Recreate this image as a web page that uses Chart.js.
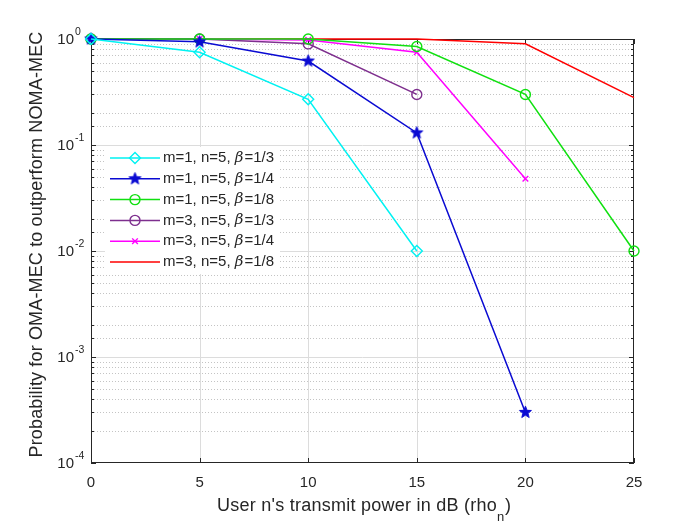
<!DOCTYPE html>
<html><head><meta charset="utf-8">
<script src="https://cdn.jsdelivr.net/npm/chart.js@4.4.0/dist/chart.umd.min.js"></script>
<style>html,body{margin:0;padding:0;background:#fff}</style>
</head><body>
<canvas id="c" width="700" height="525" style="width:700px;height:525px;display:block"></canvas>
<script>
// ---- data ----
const xValues = [0, 5, 10, 15, 20, 25];
const s_m1_b13 = [1.0, 0.75, 0.27, 0.01];
const s_m1_b14 = [1.0, 0.94, 0.62, 0.13, 0.0003];
const s_m1_b18 = [1.0, 1.0, 1.0, 0.85, 0.30, 0.01];
const s_m3_b13 = [1.0, 1.0, 0.90, 0.30];
const s_m3_b14 = [1.0, 1.0, 0.98, 0.75, 0.048];
const s_m3_b18 = [1.0, 1.0, 1.0, 1.0, 0.90, 0.28];
const legendPrefix = ['m=1, n=5, ', 'm=1, n=5, ', 'm=1, n=5, ', 'm=3, n=5, ', 'm=3, n=5, ', 'm=3, n=5, '];
const legendSuffix = ['=1/3', '=1/4', '=1/8', '=1/3', '=1/4', '=1/8'];
const xTickValues = [0, 5, 10, 15, 20, 25];
const yTickExponents = [0, -1, -2, -3, -4];
const xTitle = "User n's transmit power in dB (rho";
const xTitleSub = 'n';
const yTitle = 'Probability for OMA-MEC to outperform NOMA-MEC';

const FONT = '"Liberation Sans", Arial, Helvetica, sans-serif';
const AX = '#262626';

function starCanvas(color, r) {
  const s = Math.ceil(2 * r + 4);
  const cv = document.createElement('canvas');
  cv.width = s; cv.height = s;
  const c = cv.getContext('2d');
  const cx = s / 2, cy = s / 2, ri = r * 0.42;
  c.beginPath();
  for (let i = 0; i < 10; i++) {
    const rad = (i % 2 === 0) ? r : ri;
    const a = -Math.PI / 2 + i * Math.PI / 5;
    const px = cx + rad * Math.cos(a), py = cy + rad * Math.sin(a);
    i === 0 ? c.moveTo(px, py) : c.lineTo(px, py);
  }
  c.closePath();
  c.fillStyle = color; c.fill();
  c.strokeStyle = color; c.lineWidth = 1; c.stroke();
  return cv;
}

const colors = ['#00f2f2', '#0a0ad2', '#10e010', '#7e2f8e', '#ff00ff', '#ff0000'];
const styles = ['rectRot', starCanvas('#0a0ad2', 6.3), 'circle', 'circle', 'crossRot', false];
const radii = [5.5, 6.3, 5, 5, 4, 0];
const seriesList = [s_m1_b13, s_m1_b14, s_m1_b18, s_m3_b13, s_m3_b14, s_m3_b18];

const datasets = seriesList.map((s, i) => ({
  label: legendPrefix[i] + 'β' + legendSuffix[i],
  data: s.map((v, k) => ({x: xValues[k], y: v})),
  borderColor: colors[i],
  backgroundColor: 'rgba(0,0,0,0)',
  pointBorderColor: colors[i],
  pointBackgroundColor: 'rgba(0,0,0,0)',
  pointStyle: styles[i] || 'circle',
  pointRadius: radii[i],
  pointHoverRadius: radii[i],
  pointBorderWidth: 1.4,
  borderWidth: 1.5,
  tension: 0,
  clip: false
}));

function spaced(ctx, px) { if ('letterSpacing' in ctx) ctx.letterSpacing = px + 'px'; }

const matlab = {
  id: 'matlab',
  beforeDatasetsDraw(chart) {
    const {ctx, chartArea: a, scales: {x, y}} = chart;
    ctx.save();
    ctx.lineWidth = 1;
    y.ticks.forEach(t => {
      const v = t.value;
      const lg = Math.log10(v);
      const major = Math.abs(lg - Math.round(lg)) < 1e-9;
      const py = Math.round(y.getPixelForValue(v)) + 0.5;
      if (py <= a.top + 1 || py >= a.bottom - 1) return;
      ctx.beginPath();
      ctx.setLineDash(major ? [] : [1, 2]);
      ctx.strokeStyle = major ? '#dcdcdc' : '#c4c4c4';
      ctx.moveTo(a.left, py); ctx.lineTo(a.right, py); ctx.stroke();
    });
    ctx.setLineDash([]);
    xTickValues.forEach(v => {
      const px = Math.round(x.getPixelForValue(v)) + 0.5;
      if (px <= a.left + 1 || px >= a.right - 1) return;
      ctx.beginPath(); ctx.strokeStyle = '#dcdcdc';
      ctx.moveTo(px, a.top); ctx.lineTo(px, a.bottom); ctx.stroke();
    });
    ctx.strokeStyle = AX;
    ctx.strokeRect(Math.round(a.left) + 0.5, Math.round(a.top) + 0.5, Math.round(a.width) - 1, Math.round(a.height) - 1);
    ctx.beginPath();
    y.ticks.forEach(t => {
      const v = t.value; const lg = Math.log10(v);
      const major = Math.abs(lg - Math.round(lg)) < 1e-9;
      const len = major ? 5 : 3;
      const py = Math.round(y.getPixelForValue(v)) + 0.5;
      ctx.moveTo(a.left, py); ctx.lineTo(a.left + len, py);
      ctx.moveTo(a.right, py); ctx.lineTo(a.right - len, py);
    });
    xTickValues.forEach(v => {
      const px = Math.round(x.getPixelForValue(v)) + 0.5;
      ctx.moveTo(px, a.bottom); ctx.lineTo(px, a.bottom - 5);
      ctx.moveTo(px, a.top); ctx.lineTo(px, a.top + 5);
    });
    ctx.stroke();
    ctx.restore();
  },
  afterDraw(chart) {
    const {ctx, chartArea: a, scales: {x, y}} = chart;
    ctx.save();
    ctx.fillStyle = AX;
    yTickExponents.forEach(e => {
      const py = y.getPixelForValue(Math.pow(10, e));
      ctx.font = '15px ' + FONT;
      ctx.textAlign = 'right'; ctx.textBaseline = 'middle';
      ctx.fillText('10', a.left - 17, py + 1);
      ctx.font = '10.5px ' + FONT;
      ctx.textAlign = 'left';
      ctx.fillText(String(e), a.left - 16, py - 7);
    });
    // y title
    ctx.save();
    ctx.translate(41.5, 244.5);
    ctx.rotate(-Math.PI / 2);
    ctx.font = '18px ' + FONT;
    spaced(ctx, 0.15);
    ctx.textAlign = 'center'; ctx.textBaseline = 'alphabetic';
    ctx.fillText(yTitle, 0, 0);
    ctx.restore();
    // x title
    ctx.save();
    spaced(ctx, 0.25);
    ctx.font = '18px ' + FONT;
    const w1 = ctx.measureText(xTitle).width;
    ctx.font = '13px ' + FONT;
    const w2 = ctx.measureText(xTitleSub).width;
    const sx = 217;
    ctx.textAlign = 'left'; ctx.textBaseline = 'alphabetic';
    ctx.font = '18px ' + FONT;
    ctx.fillText(xTitle, sx, 511);
    ctx.font = '13px ' + FONT;
    ctx.fillText(xTitleSub, sx + w1, 521);
    ctx.font = '18px ' + FONT;
    ctx.fillText(')', sx + w1 + w2 + 0.5, 511);
    ctx.restore();
    // legend
    const lx = 105, ly = 147, lw = 175, lh = 127;
    ctx.fillStyle = '#ffffff';
    ctx.fillRect(lx, ly, lw, lh);
    chart.data.datasets.forEach((ds, i) => {
      const ry = 158 + i * 20.8;
      ctx.strokeStyle = ds.borderColor; ctx.lineWidth = 1.5; ctx.setLineDash([]);
      ctx.beginPath(); ctx.moveTo(110, ry); ctx.lineTo(160, ry); ctx.stroke();
      if (ds.pointRadius > 0) {
        ctx.lineWidth = ds.pointBorderWidth;
        ctx.fillStyle = 'rgba(0,0,0,0)';
        Chart.helpers.drawPoint(ctx, {pointStyle: ds.pointStyle, radius: ds.pointRadius, borderWidth: ds.pointBorderWidth, rotation: 0}, 135, ry);
      }
      ctx.fillStyle = AX;
      ctx.textAlign = 'left'; ctx.textBaseline = 'middle';
      ctx.font = '15px ' + FONT;
      let tx = 163;
      ctx.fillText(legendPrefix[i], tx, ry);
      tx += ctx.measureText(legendPrefix[i]).width;
      ctx.font = 'italic 15px "DejaVu Serif", serif';
      ctx.fillText('β', tx, ry);
      tx += ctx.measureText('β').width + 1;
      ctx.font = '15px ' + FONT;
      ctx.fillText(legendSuffix[i], tx, ry);
    });
    ctx.restore();
  }
};

new Chart(document.getElementById('c'), {
  type: 'line',
  data: {datasets},
  options: {
    responsive: false,
    animation: false,
    devicePixelRatio: 1,
    layout: {padding: {left: 91, right: 66, top: 39, bottom: 0}},
    plugins: {legend: {display: false}, tooltip: {enabled: false}},
    scales: {
      x: {
        type: 'linear', min: 0, max: 25,
        grid: {display: false, drawTicks: false},
        border: {display: false},
        afterBuildTicks: s => { s.ticks = xTickValues.map(v => ({value: v})); },
        afterFit: s => { s.height = 62; },
        ticks: {font: {size: 15, family: FONT}, color: AX, padding: 11, maxRotation: 0, autoSkip: false}
      },
      y: {
        type: 'logarithmic', min: 1e-4, max: 1,
        grid: {display: false, drawTicks: false},
        border: {display: false},
        afterFit: s => { s.width = 0; },
        ticks: {display: false}
      }
    }
  },
  plugins: [matlab]
});
</script>
</body></html>
